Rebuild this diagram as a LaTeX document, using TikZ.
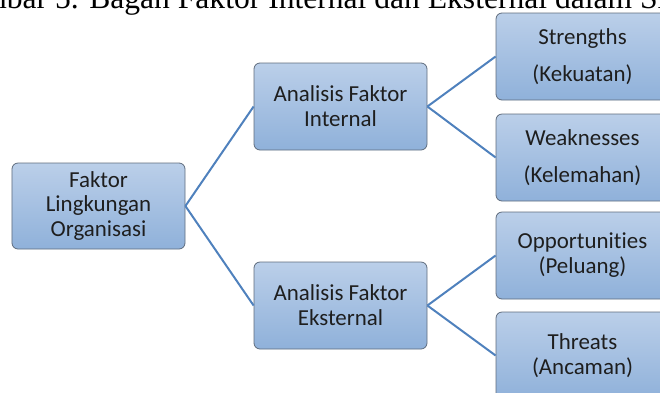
\documentclass[tikz,border=0pt]{standalone}
\usepackage{fontspec}
\setmainfont{Carlito}[Ligatures=NoCommon]
\newfontfamily\capfont{Liberation Serif}
\definecolor{boxtop}{RGB}{187,207,233}
\definecolor{boxbot}{RGB}{143,177,218}
\definecolor{boxline}{RGB}{95,108,125}
\definecolor{linkcol}{RGB}{79,129,189}
\definecolor{txtcol}{RGB}{30,30,30}
\begin{document}
\begin{tikzpicture}[x=1bp,y=-1bp,
  box/.style={draw=boxline, line width=0.8bp, rounded corners=6bp,
    top color=boxtop, bottom color=boxbot, minimum width=173bp,
    minimum height=87bp, align=center, text=txtcol, inner sep=0pt,
    font=\fontsize{23}{25}\selectfont},
  link/.style={draw=linkcol, line width=2bp}]
\useasboundingbox (0,0) rectangle (660,392);
\clip (0,0) rectangle (660,392);
\node[anchor=base west, inner sep=0pt, font=\capfont\fontsize{31.7}{33}\selectfont] (caption) at (-54.7,8.5)
  {Gambar 5. Bagan Faktor Internal dan Eksternal dalam Sistem};
\node[box, minimum height=86bp] (faktor) at (98.5,206) {Faktor\\Lingkungan\\Organisasi};
\node[box] (internal) at (340.5,106.5) {Analisis Faktor\\Internal};
\node[box] (eksternal) at (340.5,305.5) {Analisis Faktor\\Eksternal};
\node[box] (s) at (582.5,56.5) {Strengths\\[12bp](Kekuatan)};
\node[box] (w) at (582.5,157.5) {Weaknesses\\[12bp](Kelemahan)};
\node[box] (o) at (582.5,255.5) {Opportunities\\(Peluang)};
\node[box] (t) at (582.5,355.5) {Threats\\(Ancaman)};
\draw[link] (faktor.east) -- (internal.west);
\draw[link] (faktor.east) -- (eksternal.west);
\draw[link] (internal.east) -- (s.west);
\draw[link] (internal.east) -- (w.west);
\draw[link] (eksternal.east) -- (o.west);
\draw[link] (eksternal.east) -- (t.west);
\end{tikzpicture}
\end{document}
